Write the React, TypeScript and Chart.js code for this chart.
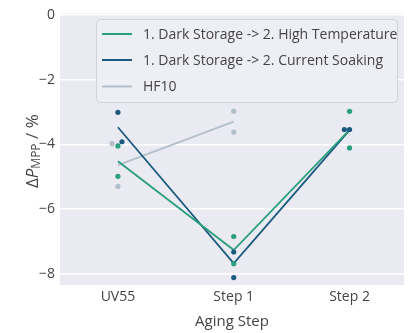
import { useEffect, useRef } from 'react';
import { Chart, registerables } from 'chart.js';
Chart.register(...registerables);

const categories = ['UV55', 'Step 1', 'Step 2'];
const seriesNames = [
  '1. Dark Storage -> 2. High Temperature',
  '1. Dark Storage -> 2. Current Soaking',
  'HF10',
];
const seriesColors = ['#2a9e7d', '#1c5b7f', '#b3bfca'];
// mean lines
const htMean = [-4.52, -7.27, -3.55];
const csMean = [-3.47, -7.68, -3.56];
const hfMean = [-4.64, -3.3];
// individual samples per category
const htPoints = [[-4.05, -4.99], [-6.85, -7.69], [-2.98, -4.11]];
const csPoints = [[-3.01, -3.92], [-7.33, -8.12], [-3.54, -3.54]];
const hfPoints = [[-3.98, -5.3], [-2.98, -3.62]];
// horizontal jitter of samples (category units)
const htJitter = [[0, 0], [0, 0], [0, 0]];
const csJitter = [[0, 0.035], [0, 0], [-0.045, 0]];
const hfJitter = [[-0.05, 0], [0, 0]];
const yTicks = [0, -2, -4, -6, -8];

const FONT = "'Open Sans', 'Noto Sans', sans-serif";
const TEXT = '#444444';

function toPts(vals: number[][], jit: number[][]) {
  const out: { x: number; y: number }[] = [];
  vals.forEach((arr, i) => arr.forEach((v, j) => out.push({ x: i + jit[i][j], y: v })));
  return out;
}

const decorPlugin = {
  id: 'decor',
  beforeDraw(chart: any) {
    const { ctx, chartArea: a } = chart;
    ctx.save();
    ctx.fillStyle = '#eaeaf2';
    ctx.fillRect(a.left, a.top, a.right - a.left, a.bottom - a.top);
    ctx.restore();
  },
  afterDraw(chart: any) {
    const { ctx, chartArea: a } = chart;
    // y-axis title
    ctx.save();
    const cx = 33;
    const cy = (a.top + a.bottom) / 2 + 2;
    ctx.translate(cx, cy);
    ctx.rotate(-Math.PI / 2);
    ctx.fillStyle = TEXT;
    ctx.textBaseline = 'middle';
    ctx.textAlign = 'left';
    const parts = [
      { t: 'Δ', f: `17px ${FONT}`, dy: 0 },
      { t: 'P', f: `italic 17px ${FONT}`, dy: 0 },
      { t: 'MPP', f: `12px ${FONT}`, dy: 4 },
      { t: ' / %', f: `17px ${FONT}`, dy: 0 },
    ];
    let total = 0;
    parts.forEach((p) => { ctx.font = p.f; total += ctx.measureText(p.t).width; });
    let x = -total / 2;
    parts.forEach((p) => { ctx.font = p.f; ctx.fillText(p.t, x, p.dy); x += ctx.measureText(p.t).width; });
    ctx.restore();

    // legend
    ctx.save();
    const lx = 96.5, ly = 19.5, lw = 301, lh = 83, r = 4;
    ctx.beginPath();
    ctx.moveTo(lx + r, ly);
    ctx.arcTo(lx + lw, ly, lx + lw, ly + lh, r);
    ctx.arcTo(lx + lw, ly + lh, lx, ly + lh, r);
    ctx.arcTo(lx, ly + lh, lx, ly, r);
    ctx.arcTo(lx, ly, lx + lw, ly, r);
    ctx.closePath();
    ctx.fillStyle = 'rgba(238,239,245,0.92)';
    ctx.fill();
    ctx.strokeStyle = '#d2d2d8';
    ctx.lineWidth = 1;
    ctx.stroke();
    const rows = [34, 60, 86.5];
    seriesNames.forEach((name, i) => {
      ctx.strokeStyle = seriesColors[i];
      ctx.lineWidth = 2;
      ctx.beginPath();
      ctx.moveTo(102, rows[i]);
      ctx.lineTo(132, rows[i]);
      ctx.stroke();
      ctx.fillStyle = TEXT;
      ctx.font = `14px ${FONT}`;
      ctx.textBaseline = 'middle';
      ctx.textAlign = 'left';
      ctx.fillText(name, 143, rows[i] + 1);
    });
    ctx.restore();
  },
};

export default function App() {
  const ref = useRef<HTMLCanvasElement>(null);
  useEffect(() => {
    if (!ref.current) return;
    Chart.defaults.font.family = FONT;
    const lineDs = (means: number[], color: string) => ({
      type: 'line' as const,
      data: means.map((v, i) => ({ x: i, y: v })),
      borderColor: color,
      borderWidth: 1.8,
      pointRadius: 0,
      showLine: true,
      order: 2,
    });
    const dotDs = (vals: number[][], jit: number[][], color: string) => ({
      type: 'scatter' as const,
      data: toPts(vals, jit),
      backgroundColor: color,
      borderColor: color,
      borderWidth: 0,
      pointRadius: 2.6,
      showLine: false,
      order: 1,
    });
    const chart = new Chart(ref.current, {
      type: 'scatter',
      data: {
        datasets: [
          lineDs(htMean, seriesColors[0]),
          lineDs(csMean, seriesColors[1]),
          lineDs(hfMean, seriesColors[2]),
          dotDs(hfPoints, hfJitter, seriesColors[2]),
          dotDs(htPoints, htJitter, seriesColors[0]),
          dotDs(csPoints, csJitter, seriesColors[1]),
        ] as any,
      },
      options: {
        responsive: false,
        animation: false,
        layout: { padding: { left: 0, right: 0, top: 10, bottom: 0 } },
        plugins: { legend: { display: false }, tooltip: { enabled: false } },
        scales: {
          x: {
            type: 'linear',
            min: -0.5,
            max: 2.47,
            afterBuildTicks: (s: any) => { s.ticks = [0, 1, 2].map((v) => ({ value: v })); },
            afterFit: (s: any) => { s.height = 48; },
            ticks: {
              callback: (v: any) => categories[v] ?? '',
              font: { size: 14, family: FONT },
              color: TEXT,
              padding: 4,
              maxRotation: 0,
            },
            grid: { display: false, drawTicks: false },
            border: { display: false },
            title: {
              display: true,
              text: 'Aging Step',
              font: { size: 15, family: FONT },
              color: TEXT,
              padding: { top: 0, bottom: 2 },
            },
          },
          y: {
            min: -8.35,
            max: 0.05,
            afterBuildTicks: (s: any) => { s.ticks = yTicks.map((v) => ({ value: v })); },
            afterFit: (s: any) => { s.width = 60; },
            ticks: {
              callback: (v: any) => (v < 0 ? '\u2212' + Math.abs(v) : String(v)),
              font: { size: 14, family: FONT },
              color: TEXT,
              padding: 5,
            },
            grid: { color: '#ffffff', lineWidth: 1.5, drawTicks: false },
            border: { display: false },
          },
        },
      },
      plugins: [decorPlugin],
    } as any);
    return () => chart.destroy();
  }, []);
  return (
    <div style={{ position: 'fixed', left: 0, top: 0 }}>
      <canvas ref={ref} width={408} height={333} style={{ display: 'block' }} />
    </div>
  );
}
